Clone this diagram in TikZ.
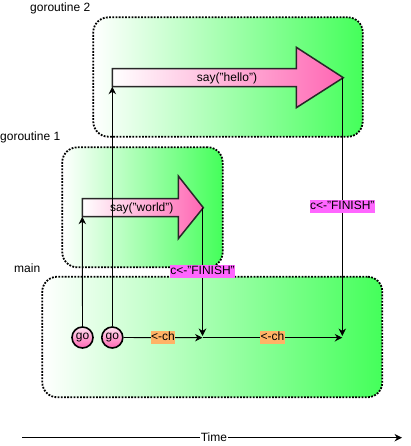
\documentclass[tikz,border=0pt]{standalone}
\usepackage{fontspec}
\setmainfont{Liberation Sans}
\usetikzlibrary{arrows.meta}
\definecolor{grn}{RGB}{68,255,90}
\definecolor{pnk}{RGB}{255,102,179}
\definecolor{mag}{RGB}{255,102,255}
\definecolor{org}{RGB}{255,179,102}
\definecolor{edge}{RGB}{40,40,40}
\begin{document}
\begin{tikzpicture}[x=1pt,y=-1pt,font=\fontsize{12}{14}\selectfont,
  gbox/.style={draw=black, line width=1.8pt, dash pattern=on 1.8pt off 1.4pt,
    left color=white, right color=grn, rounded corners=15pt, inner sep=0pt},
  bigarrow/.style={draw=edge, line width=1.5pt, line join=miter,
    left color=white, right color=pnk},
  gocirc/.style={circle, draw=black, line width=1.6pt, minimum size=21pt,
    inner sep=0pt, top color=pnk!20, bottom color=pnk},
  conn/.style={draw=black, line width=0.9pt, -{Stealth[length=7.5pt,width=7.5pt]}},
  maglab/.style={fill=mag, inner sep=0.5pt, text height=9pt, text depth=3pt},
  orglab/.style={fill=org, inner sep=0.5pt, text height=9pt, text depth=3pt},
  title/.style={anchor=west, inner sep=0pt}]
\useasboundingbox (0,0) rectangle (411,446);

% group boxes
\node[gbox, minimum width=269.4pt, minimum height=119.4pt] (g2) at (228,77) {};
\node[gbox, minimum width=160.4pt, minimum height=120pt] (g1) at (142.5,207.3) {};
\node[gbox, minimum width=340pt, minimum height=120.6pt] (gm) at (212.3,337) {};

% titles
\node[title] (t2) at (30,8) {goroutine 2};
\node[title] (t1) at (0,137.5) {goroutine 1};
\node[title] (tm) at (14,268) {main};

% big arrows
\shadedraw[bigarrow] (112.3,68.7) -- (296.3,68.7) -- (296.3,47.3) -- (343.3,77.7)
  -- (296.3,107.7) -- (296.3,86.7) -- (112.3,86.7) -- cycle;
\node (hello) at (227,78) {say("hello")};
\coordinate (hb) at (112.3,86.7);
\coordinate (ht) at (342.3,77.7);

\shadedraw[bigarrow] (82.3,198.7) -- (178.3,198.7) -- (178.3,176) -- (203.3,207.7)
  -- (178.3,238.7) -- (178.3,216.7) -- (82.3,216.7) -- cycle;
\node (world) at (141.7,208) {say("world")};
\coordinate (wb) at (82.3,216.7);
\coordinate (wt) at (202.5,207.7);

% go circles
\node[gocirc] (go1) at (82.5,337.5) {go};
\node[gocirc] (go2) at (112.3,337.5) {go};

% join points
\coordinate (m1) at (202.5,337.7);
\coordinate (m2) at (342.3,337.7);
\coordinate (v1) at (202.5,336);
\coordinate (v2) at (342.3,336);

% connectors
\draw[conn] (go1) -- (wb);
\draw[conn] (go2) -- (hb);
\draw[conn] (go2) -- node[orglab] (ch1) {<-ch} (m1);
\draw[conn] (m1) -- node[orglab] (ch2) {<-ch} (m2);
\draw[conn] (wt) -- node[maglab] (f1) {c<-"FINISH"} (v1);
\draw[conn] (ht) -- node[maglab] (f2) {c<-"FINISH"} (v2);

% time axis
\coordinate (ta) at (22,437.7);
\coordinate (tb) at (402,437.7);
\draw[conn] (ta) -- node[pos=0.505, fill=white, inner sep=1pt] (time) {Time} (tb);
\end{tikzpicture}
\end{document}
